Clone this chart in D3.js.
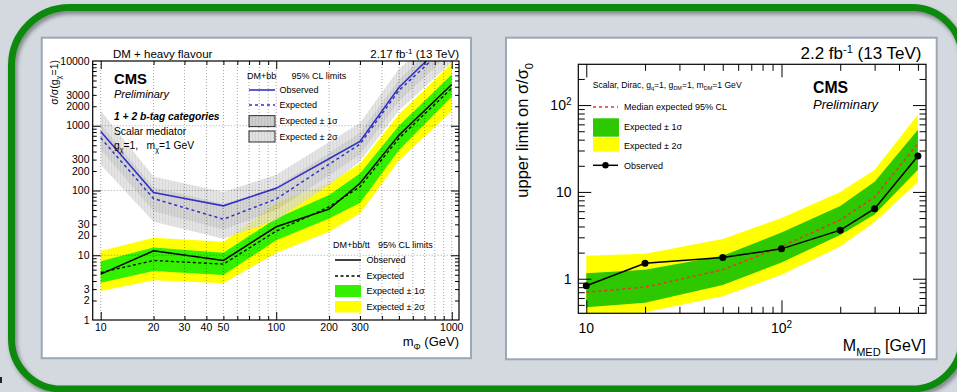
<!DOCTYPE html>
<html><head><meta charset="utf-8">
<script src="https://cdn.jsdelivr.net/npm/d3@7"></script>
<style>
body{margin:0;background:#d4d9e0;overflow:hidden}
svg{display:block;font-family:"Liberation Sans",Arial,Helvetica,sans-serif}
</style></head>
<body><svg id="c" width="957" height="392"></svg>
<script>
// ---------- LEFT PLOT DATA (DM + heavy flavour) ----------
const massL = [10, 20, 50, 100, 200, 300, 500, 1000];
// DM+bb (blue, grey bands)
const bbObs   = [817, 93, 58, 108, 309, 572, 3900, 24000];
const bbExp   = [650, 75, 36, 74, 254, 520, 3500, 20000];
const bbS1Hi  = [1050, 112, 62, 115, 380, 780, 5200, 30000];
const bbS1Lo  = [430, 48, 25, 50, 170, 360, 2400, 14000];
const bbS2Hi  = [1700, 165, 95, 175, 560, 1100, 7500, 42000];
const bbS2Lo  = [250, 33, 18, 35, 120, 280, 1700, 9500];
// DM+bb/tt (black, green/yellow bands)
const bttObs  = [5.1, 11.7, 8.3, 27.5, 51.6, 129, 716, 4330];
const bttExp  = [5.4, 8.3, 7.3, 23.6, 56, 114, 640, 3800];
const bttS1Hi = [8.1, 13.2, 10.9, 37, 85, 183, 1000, 6200];
const bttS1Lo = [3.77, 5.7, 4.95, 17, 37, 64, 420, 2800];
const bttS2Hi = [11.6, 18.6, 16.1, 64, 130, 261, 1500, 9200];
const bttS2Lo = [2.8, 4.1, 3.7, 10.8, 23, 44, 290, 1680];
const xTicksL = [10, 20, 30, 40, 50, 100, 200, 300, 1000];
const yTicksL = [1, 2, 3, 10, 20, 30, 100, 200, 300, 1000, 2000, 3000, 10000];

// ---------- RIGHT PLOT DATA ----------
const massR  = [10, 20, 50, 100, 200, 300, 500];
const obsR   = [0.83, 1.51, 1.76, 2.21, 3.63, 6.4, 25.9];
const expR   = [0.70, 0.80, 1.27, 2.35, 4.77, 8.7, 36];
const s1HiR  = [1.16, 1.27, 1.84, 3.4, 6.9, 13.1, 52];
const s1LoR  = [0.47, 0.53, 0.85, 1.54, 3.2, 5.5, 18];
const s2HiR  = [1.84, 1.94, 2.86, 5.0, 10, 17.9, 78];
const s2LoR  = [0.33, 0.41, 0.63, 1.11, 2.35, 4.5, 13];
const xTicksR = [10, 100];
const yTicksR = [1, 10, 100];

const svg = d3.select("#c");
const defs = svg.append("defs");

// rich text helper: parts = [[text, mode]] mode: "", "sub", "sup"
function rich(t, parts, small) {
  let shift = 0;
  parts.forEach(([s, m]) => {
    const target = m === "sub" ? small * 0.45 : m === "sup" ? -small * 0.55 : 0;
    const ts = t.append("tspan").text(s).attr("dy", target - shift);
    if (m) ts.attr("font-size", small);
    shift = target;
  });
  return t;
}

// ---------- slide frame ----------
const flt = defs.append("filter").attr("id", "sh").attr("x", "-5%").attr("y", "-5%").attr("width", "110%").attr("height", "110%");
flt.append("feDropShadow").attr("dx", 2).attr("dy", 3).attr("stdDeviation", 2.2).attr("flood-color", "#000").attr("flood-opacity", 0.4);
{
  const L = 11.5, T = 7.5, R = 962, B = 389, rTL = 58, rBL = 50, rTR = 50, rBR = 50;
  const p = `M${L + rTL},${T} H${R - rTR} A${rTR},${rTR} 0 0 1 ${R},${T + rTR} V${B - rBR} A${rBR},${rBR} 0 0 1 ${R - rBR},${B} H${L + rBL} A${rBL},${rBL} 0 0 1 ${L},${B - rBL} V${T + rTL} A${rTL},${rTL} 0 0 1 ${L + rTL},${T} Z`;
  svg.append("path").attr("d", p).attr("fill", "none").attr("stroke", "#0c8a0c").attr("stroke-width", 7).attr("filter", "url(#sh)");
}
svg.append("rect").attr("x", 0).attr("y", 377).attr("width", 2).attr("height", 6).attr("fill", "#222");

// panels
svg.append("rect").attr("x", 41.7).attr("y", 37.7).attr("width", 429.3).attr("height", 320.5).attr("fill", "#fff").attr("stroke", "#9ca6b4").attr("stroke-width", 2);
svg.append("rect").attr("x", 506).attr("y", 37.7).attr("width", 430.7).attr("height", 321.6).attr("fill", "#fff").attr("stroke", "#9ca6b4").attr("stroke-width", 2);

// patterns for grey bands
function pat(id, base, stripe) {
  const p = defs.append("pattern").attr("id", id).attr("patternUnits", "userSpaceOnUse").attr("width", 3).attr("height", 3);
  p.append("rect").attr("width", 3).attr("height", 3).attr("fill", base);
  p.append("rect").attr("width", 1).attr("height", 3).attr("fill", stripe);
}
pat("g2", "#dcdcdc", "#cdcdcd");
pat("g1", "#c6c6c6", "#b6b6b6");

// ---------- axes helper ----------
function decadeTicks(lo, hi) {
  const minor = [], major = [];
  for (let e = Math.floor(Math.log10(lo)); e <= Math.ceil(Math.log10(hi)); e++) {
    const d = Math.pow(10, e);
    for (let k = 1; k <= 9; k++) {
      const v = +(k * d).toPrecision(6);
      if (v < lo * 1.0001 || v > hi * 0.9999) continue;
      (k === 1 ? major : minor).push(v);
    }
  }
  return { major, minor };
}
function frameAxes(g, x, y, majLen, minLen) {
  const [x0, x1] = x.range(), [y0, y1] = y.range();
  const xt = decadeTicks(...x.domain()), yt = decadeTicks(...y.domain());
  const rm = s => s.select(".domain").remove();
  const add = (axis, tr, vals, len) => g.append("g").attr("transform", tr)
    .call(axis.tickValues(vals).tickSize(-len).tickFormat("")).call(rm);
  add(d3.axisBottom(x), `translate(0,${y0})`, xt.major, majLen);
  add(d3.axisBottom(x), `translate(0,${y0})`, xt.minor, minLen);
  add(d3.axisTop(x), `translate(0,${y1})`, xt.major, majLen);
  add(d3.axisTop(x), `translate(0,${y1})`, xt.minor, minLen);
  add(d3.axisLeft(y), `translate(${x0},0)`, yt.major, majLen);
  add(d3.axisLeft(y), `translate(${x0},0)`, yt.minor, minLen);
  add(d3.axisRight(y), `translate(${x1},0)`, yt.major, majLen);
  add(d3.axisRight(y), `translate(${x1},0)`, yt.minor, minLen);
  g.selectAll(".tick line").attr("stroke", "#000").attr("stroke-width", 1);
  g.append("rect").attr("x", x0).attr("y", y1).attr("width", x1 - x0).attr("height", y0 - y1)
    .attr("fill", "none").attr("stroke", "#000").attr("stroke-width", 1.2);
  return { xt, yt };
}
function band(g, x, y, m, lo, hi, fill, op) {
  const d = m.map((v, i) => ({ m: v, lo: lo[i], hi: hi[i] }));
  g.append("path").datum(d).attr("fill", fill).attr("fill-opacity", op || 1)
    .attr("d", d3.area().x(p => x(p.m)).y0(p => y(p.lo)).y1(p => y(p.hi)));
}
function line(g, x, y, m, v, color, w, dash) {
  const d = m.map((k, i) => ({ m: k, v: v[i] }));
  const p = g.append("path").datum(d).attr("fill", "none").attr("stroke", color).attr("stroke-width", w)
    .attr("d", d3.line().x(p => x(p.m)).y(p => y(p.v)));
  if (dash) p.attr("stroke-dasharray", dash);
}

// ================= LEFT PLOT =================
const xL = d3.scaleLog().domain([9, 1100]).range([92.7, 459]);
const yL = d3.scaleLog().domain([1, 10000]).range([320, 61]);
defs.append("clipPath").attr("id", "clipL").append("rect").attr("x", 92.7).attr("y", 61).attr("width", 459 - 92.7).attr("height", 259);
const gL = svg.append("g");
const pL = gL.append("g").attr("clip-path", "url(#clipL)");
band(pL, xL, yL, massL, bttS2Lo, bttS2Hi, "#ffff00");
band(pL, xL, yL, massL, bttS1Lo, bttS1Hi, "#33f000");
const grey = pL.append("g").attr("opacity", 0.75);
band(grey, xL, yL, massL, bbS2Lo, bbS2Hi, "url(#g2)");
band(grey, xL, yL, massL, bbS1Lo, bbS1Hi, "url(#g1)");
line(pL, xL, yL, massL, bttExp, "#000", 1.3, "3,2.5");
line(pL, xL, yL, massL, bttObs, "#000", 1.5);
line(pL, xL, yL, massL, bbExp, "#3232c8", 1.5, "3,3");
line(pL, xL, yL, massL, bbObs, "#3232c8", 1.6);
// grid
{
  const t = decadeTicks(...xL.domain());
  const gg = gL.append("g").attr("stroke", "#000").attr("stroke-opacity", 0.45).attr("stroke-width", 0.8).attr("stroke-dasharray", "1,2");
  t.major.concat(t.minor).forEach(v => gg.append("line").attr("x1", xL(v)).attr("x2", xL(v)).attr("y1", 61).attr("y2", 320));
  decadeTicks(...yL.domain()).major.forEach(v => gg.append("line").attr("x1", 92.7).attr("x2", 459).attr("y1", yL(v)).attr("y2", yL(v)));
}
frameAxes(gL, xL, yL, 8, 4);
// tick labels
gL.selectAll(".xl").data(xTicksL).join("text").attr("x", d => xL(d)).attr("y", 331)
  .attr("text-anchor", "middle").attr("font-size", 10.5).text(d => d);
gL.selectAll(".yl").data(yTicksL).join("text").attr("x", 89.5).attr("y", d => yL(d)).attr("dy", "0.35em")
  .attr("text-anchor", "end").attr("font-size", 10.5).text(d => d);
// titles
rich(gL.append("text").attr("x", 459).attr("y", 345.5).attr("text-anchor", "end").attr("font-size", 13), [["m", ""], ["Φ", "sub"], [" (GeV)", ""]], 9);
rich(gL.append("text").attr("transform", "translate(58,60) rotate(-90)").attr("text-anchor", "end").attr("font-size", 10.5),
  [["σ/σ(g", ""], ["χ", "sub"], ["=1)", ""]], 7.5);
gL.append("text").attr("x", 113).attr("y", 58).attr("font-size", 11.5).text("DM + heavy flavour");
rich(gL.append("text").attr("x", 459).attr("y", 58).attr("text-anchor", "end").attr("font-size", 11.5),
  [["2.17 fb", ""], ["-1", "sup"], ["  (13 TeV)", ""]], 8);
gL.append("text").attr("x", 114).attr("y", 84).attr("font-size", 14.8).attr("font-weight", "bold").text("CMS");
gL.append("text").attr("x", 114).attr("y", 97.5).attr("font-size", 11).attr("font-style", "italic").text("Preliminary");
gL.append("text").attr("x", 114).attr("y", 120).attr("font-size", 10.3).attr("font-weight", "bold").attr("font-style", "italic").text("1 + 2 b-tag categories");
gL.append("text").attr("x", 114).attr("y", 135).attr("font-size", 10.3).text("Scalar mediator");
rich(gL.append("text").attr("x", 114).attr("y", 149).attr("font-size", 10.3).attr("xml:space", "preserve"),
  [["g", ""], ["χ", "sub"], ["=1,   m", ""], ["χ", "sub"], ["=1 GeV", ""]], 7);
// legend DM+bb
{
  const lg = gL.append("g").attr("font-size", 9);
  lg.append("text").attr("x", 247).attr("y", 79).text("DM+bb");
  lg.append("text").attr("x", 291.5).attr("y", 79).text("95% CL limits");
  lg.append("line").attr("x1", 249).attr("x2", 275).attr("y1", 90).attr("y2", 90).attr("stroke", "#3232c8").attr("stroke-width", 1.6);
  lg.append("line").attr("x1", 249).attr("x2", 275).attr("y1", 105).attr("y2", 105).attr("stroke", "#3232c8").attr("stroke-width", 1.5).attr("stroke-dasharray", "3,3");
  lg.append("rect").attr("x", 249).attr("y", 115.7).attr("width", 26).attr("height", 11).attr("fill", "url(#g1)").attr("fill-opacity", 0.85).attr("stroke", "#000").attr("stroke-width", 0.8);
  lg.append("rect").attr("x", 249).attr("y", 131).attr("width", 26).attr("height", 11).attr("fill", "url(#g2)").attr("fill-opacity", 0.85).attr("stroke", "#000").attr("stroke-width", 0.8);
  lg.append("text").attr("x", 279.5).attr("y", 93.2).text("Observed");
  lg.append("text").attr("x", 279.5).attr("y", 108.2).text("Expected");
  lg.append("text").attr("x", 279.5).attr("y", 124.3).text("Expected ± 1σ");
  lg.append("text").attr("x", 279.5).attr("y", 139.5).text("Expected ± 2σ");
}
// legend DM+bb/tt
{
  const lg = gL.append("g").attr("font-size", 9);
  lg.append("text").attr("x", 333).attr("y", 247.5).text("DM+bb/tt");
  lg.append("text").attr("x", 378).attr("y", 247.5).text("95% CL limits");
  lg.append("line").attr("x1", 335).attr("x2", 361).attr("y1", 260).attr("y2", 260).attr("stroke", "#000").attr("stroke-width", 1.5);
  lg.append("line").attr("x1", 335).attr("x2", 361).attr("y1", 276).attr("y2", 276).attr("stroke", "#000").attr("stroke-width", 1.3).attr("stroke-dasharray", "3,2.5");
  lg.append("rect").attr("x", 335).attr("y", 285).attr("width", 26).attr("height", 12).attr("fill", "#33f000");
  lg.append("rect").attr("x", 335).attr("y", 301).attr("width", 26).attr("height", 11.5).attr("fill", "#ffff00");
  lg.append("text").attr("x", 366.5).attr("y", 263.3).text("Observed");
  lg.append("text").attr("x", 366.5).attr("y", 279.3).text("Expected");
  lg.append("text").attr("x", 366.5).attr("y", 294.3).text("Expected ± 1σ");
  lg.append("text").attr("x", 366.5).attr("y", 310.3).text("Expected ± 2σ");
}

// ================= RIGHT PLOT =================
const xR = d3.scaleLog().domain([9.1, 550]).range([578.3, 926]);
const yR = d3.scaleLog().domain([0.4, 295]).range([313.3, 64.3]);
defs.append("clipPath").attr("id", "clipR").append("rect").attr("x", 578.3).attr("y", 64.3).attr("width", 926 - 578.3).attr("height", 249);
const gR = svg.append("g");
const pR = gR.append("g").attr("clip-path", "url(#clipR)");
band(pR, xR, yR, massR, s2LoR, s2HiR, "#ffff00");
band(pR, xR, yR, massR, s1LoR, s1HiR, "#2ec800");
line(pR, xR, yR, massR, expR, "#e8352a", 1.5, "3,3");
line(pR, xR, yR, massR, obsR, "#000", 1.5);
pR.selectAll(".pt").data(massR.map((m, i) => [m, obsR[i]])).join("circle")
  .attr("cx", d => xR(d[0])).attr("cy", d => yR(d[1])).attr("r", 3.5).attr("fill", "#000");
frameAxes(gR, xR, yR, 13, 6.5);
// tick labels
function powLabel(v) { const e = Math.round(Math.log10(v)); return e <= 1 ? [[String(v), ""]] : [["10", ""], [String(e), "sup"]]; }
xTicksR.forEach(v => rich(gR.append("text").attr("x", xR(v)).attr("y", 333).attr("text-anchor", "middle").attr("font-size", 14), powLabel(v), 10));
yTicksR.forEach(v => rich(gR.append("text").attr("x", 571.5).attr("y", yR(v) + 5).attr("text-anchor", "end").attr("font-size", 14), powLabel(v), 10));
// titles
rich(gR.append("text").attr("x", 926).attr("y", 351).attr("text-anchor", "end").attr("font-size", 16), [["M", ""], ["MED", "sub"], [" [GeV]", ""]], 11);
rich(gR.append("text").attr("transform", "translate(528,63) rotate(-90)").attr("text-anchor", "end").attr("font-size", 16.5),
  [["upper limit on σ/σ", ""], ["0", "sub"]], 11);
rich(gR.append("text").attr("x", 921.5).attr("y", 59).attr("text-anchor", "end").attr("font-size", 17),
  [["2.2 fb", ""], ["-1", "sup"], [" (13 TeV)", ""]], 11);
gR.append("text").attr("x", 813).attr("y", 92.5).attr("font-size", 15.8).attr("font-weight", "bold").text("CMS");
gR.append("text").attr("x", 813).attr("y", 108.5).attr("font-size", 13).attr("font-style", "italic").text("Preliminary");
{
  const lg = gR.append("g").attr("font-size", 9);
  rich(lg.append("text").attr("x", 592.7).attr("y", 88).attr("font-size", 8.6),
    [["Scalar, Dirac, g", ""], ["q", "sub"], ["=1, g", ""], ["DM", "sub"], ["=1, m", ""], ["DM", "sub"], ["=1 GeV", ""]], 5.5);
  lg.append("line").attr("x1", 593).attr("x2", 618).attr("y1", 107).attr("y2", 107).attr("stroke", "#e8352a").attr("stroke-width", 1.5).attr("stroke-dasharray", "3,3");
  lg.append("rect").attr("x", 593).attr("y", 118.3).attr("width", 26).attr("height", 18.4).attr("fill", "#2ec800");
  lg.append("rect").attr("x", 593).attr("y", 137.7).attr("width", 26).attr("height", 14).attr("fill", "#ffff00");
  lg.append("line").attr("x1", 593).attr("x2", 618).attr("y1", 165.3).attr("y2", 165.3).attr("stroke", "#000").attr("stroke-width", 1.5);
  lg.append("circle").attr("cx", 605.5).attr("cy", 165.3).attr("r", 3.2).attr("fill", "#000");
  lg.append("text").attr("x", 624).attr("y", 110.3).text("Median expected 95% CL");
  lg.append("text").attr("x", 624).attr("y", 130.3).text("Expected ± 1σ");
  lg.append("text").attr("x", 624).attr("y", 149.3).text("Expected ± 2σ");
  lg.append("text").attr("x", 624).attr("y", 168.5).text("Observed");
}
</script></body></html>
